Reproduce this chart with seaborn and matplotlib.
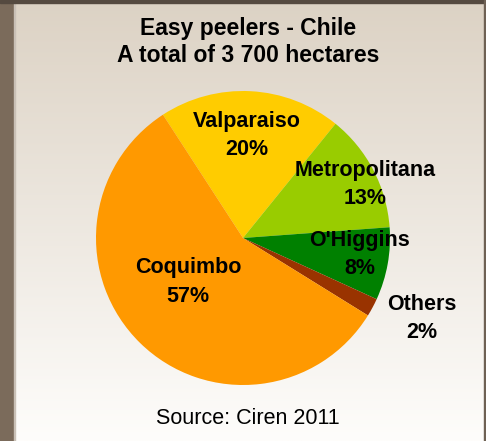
import numpy as np
import matplotlib
matplotlib.use("Agg")
import matplotlib.pyplot as plt
import seaborn as sns

# Planted area of easy peelers by region (share of total, %)
regions = ["Valparaiso", "Metropolitana", "O'Higgins", "Others", "Coquimbo"]
shares = [20, 13, 8, 2, 57]
slice_colors = ["#FFCC00", "#99CC00", "#008000", "#993300", "#FF9900"]

title_lines = ["Easy peelers - Chile", "A total of 3 700 hectares"]
source_note = "Source: Ciren 2011"

sns.set_style("white")
plt.rcParams["font.family"] = ["Liberation Sans", "DejaVu Sans"]
plt.rcParams["text.color"] = "black"

W, H, DPI = 486, 441, 100
fig = plt.figure(figsize=(W / DPI, H / DPI), dpi=DPI)

# Frame: dark left/top/right edges with a beige-to-white gradient panel
bg = fig.add_axes([0, 0, 1, 1])
bg.set_xlim(0, W)
bg.set_ylim(H, 0)
bg.axis("off")
top_rgb = np.array([0xDC, 0xD2, 0xC4]) / 255
bot_rgb = np.array([0xFE, 0xFD, 0xFB]) / 255
t = np.linspace(0, 1, 256)[:, None, None]
grad = top_rgb * (1 - t) + bot_rgb * t
grad = np.repeat(grad, 2, axis=1)
bg.imshow(grad, extent=[14, W, H, 0], aspect="auto", zorder=0)
bg.add_patch(plt.Rectangle((0, 0), 14, H, color="#7B6B5B", zorder=1))
bg.add_patch(plt.Rectangle((14, 0), 1, H, color="#C9C0B6", zorder=1))
bg.add_patch(plt.Rectangle((0, 0), W, 2.5, color="#554A40", zorder=1))
bg.add_patch(plt.Rectangle((483.5, 0), 2.5, H, color="#6E6154", zorder=1))

# Pie
cx, cy, r = 243, 238, 147
ax = fig.add_axes([(cx - r) / W, (H - cy - r) / H, 2 * r / W, 2 * r / H])
ax.axis("off")
palette = sns.color_palette(slice_colors)
wedges, _ = ax.pie(shares, colors=palette, startangle=123, counterclock=False,
                   radius=1.0, center=(0, 0), frame=False,
                   wedgeprops={"linewidth": 0, "edgecolor": "none"})
ax.set_xlim(-1, 1)
ax.set_ylim(-1, 1)
ax.set_aspect("auto")

# Label placement: (radial factor, angle offset in degrees) per slice
placement = {
    "Valparaiso": (0.70, 1),
    "Metropolitana": (0.91, -4),
    "O'Higgins": (0.80, 2),
    "Others": (1.33, 4),
    "Coquimbo": (0.48, -7),
}
for w, name, val in zip(wedges, regions, shares):
    mid = np.deg2rad((w.theta1 + w.theta2) / 2 + placement[name][1])
    rf = placement[name][0]
    ax.text(rf * np.cos(mid), rf * np.sin(mid), f"{name}\n{val}%",
            ha="center", va="center", fontsize=15.5, fontweight="bold",
            linespacing=1.45, color="black", clip_on=False)

fig.text(248 / W, 1 - 28 / H, title_lines[0], ha="center", va="center",
         fontsize=16.5, fontweight="bold")
fig.text(248 / W, 1 - 56 / H, title_lines[1], ha="center", va="center",
         fontsize=16.5, fontweight="bold")
fig.text(248 / W, 1 - 418 / H, source_note, ha="center", va="center",
         fontsize=15.5)

fig.savefig("out.png", dpi=DPI)
